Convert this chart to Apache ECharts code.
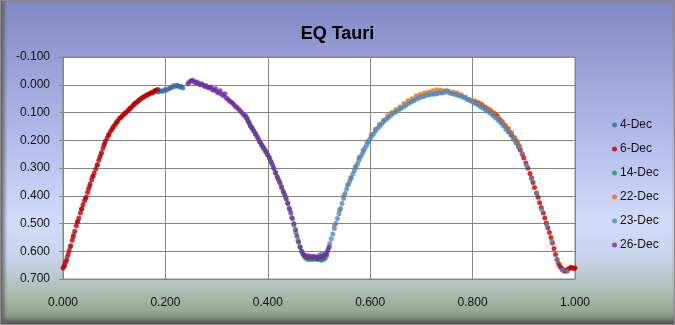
<!DOCTYPE html>
<html>
<head>
<meta charset="utf-8">
<script src="https://cdn.jsdelivr.net/npm/echarts@6/dist/echarts.min.js"></script>
<style>
  html, body { margin: 0; padding: 0; }
  #wrap {
    width: 675px; height: 325px; box-sizing: border-box;
    border: 1px solid #8c8c8c;
    background: linear-gradient(to bottom, #8187c3 0%, #9aa1d7 20%, #b6beec 45%, #d3dbfb 68%, #c7d3ea 80%, #adbfb4 90%, #97a893 96%, #6e786c 100%);
    box-shadow: inset 5px 0 4px -2px #5e5e5e, inset 0 -5px 4px -2px #4e564c;
  }
  #chart { width: 673px; height: 323px; }
</style>
</head>
<body>
<div id="wrap"><div id="chart"></div></div>
<script>
// EQ Tauri light curve, phase vs magnitude
let seriesNames = ["4-Dec", "6-Dec", "14-Dec", "22-Dec", "23-Dec", "26-Dec"];
let seriesColors = ["#3b6ca0", "#c00000", "#16a04e", "#e5700f", "#4a89c2", "#7030a0"];

let dec4 = [[0.002,0.655],[0.008,0.622],[0.014,0.585],[0.021,0.540],[0.029,0.492],[0.037,0.447],[0.044,0.410],[0.052,0.366],[0.059,0.330],[0.067,0.290],[0.074,0.252],[0.081,0.212],[0.089,0.180],[0.097,0.157],[0.105,0.134],[0.114,0.116],[0.121,0.103],[0.130,0.086],[0.139,0.070],[0.148,0.056],[0.157,0.045],[0.166,0.036],[0.174,0.031],[0.181,0.024],[0.186,0.026],[0.190,0.022],[0.194,0.024],[0.198,0.018],[0.202,0.020],[0.206,0.014],[0.210,0.012],[0.213,0.008],[0.216,0.004],[0.219,0.006],[0.222,0.002],[0.225,0.004],[0.228,0.008],[0.231,0.006],[0.234,0.012]];

let dec6 = [[0.000,0.660],[0.003,0.650],[0.005,0.640],[0.007,0.632],[0.010,0.612],[0.012,0.598],[0.015,0.580],[0.018,0.560],[0.020,0.548],[0.023,0.528],[0.026,0.508],[0.028,0.495],[0.031,0.480],[0.034,0.462],[0.036,0.448],[0.039,0.432],[0.042,0.418],[0.045,0.405],[0.048,0.388],[0.050,0.375],[0.053,0.358],[0.056,0.342],[0.058,0.330],[0.061,0.318],[0.064,0.304],[0.067,0.288],[0.070,0.272],[0.072,0.260],[0.075,0.245],[0.078,0.230],[0.080,0.218],[0.083,0.204],[0.086,0.192],[0.089,0.182],[0.092,0.170],[0.095,0.162],[0.098,0.152],[0.101,0.145],[0.104,0.138],[0.107,0.130],[0.110,0.122],[0.113,0.118],[0.116,0.112],[0.119,0.106],[0.122,0.102],[0.125,0.096],[0.128,0.092],[0.131,0.086],[0.134,0.080],[0.137,0.075],[0.140,0.068],[0.143,0.064],[0.146,0.060],[0.149,0.055],[0.152,0.050],[0.155,0.047],[0.158,0.043],[0.161,0.040],[0.164,0.037],[0.167,0.034],[0.170,0.031],[0.173,0.028],[0.176,0.026],[0.179,0.022],[0.182,0.020],[0.185,0.017],
  [0.805,0.060],[0.812,0.066],[0.818,0.072],[0.824,0.080],[0.830,0.088],[0.836,0.095],[0.842,0.104],[0.848,0.112],[0.853,0.125],[0.858,0.135],[0.863,0.148],[0.868,0.158],[0.872,0.170],[0.876,0.180],[0.880,0.190],[0.884,0.200],[0.887,0.210],[0.890,0.222],[0.893,0.234],[0.897,0.250],[0.900,0.264],[0.904,0.282],[0.908,0.300],[0.912,0.320],[0.915,0.335],[0.918,0.352],[0.921,0.370],[0.925,0.390],[0.928,0.405],[0.931,0.425],[0.934,0.442],[0.938,0.462],[0.941,0.480],[0.944,0.498],[0.947,0.515],[0.950,0.532],[0.953,0.550],[0.956,0.570],[0.959,0.590],[0.962,0.612],[0.965,0.630],[0.968,0.645],[0.971,0.655],[0.974,0.662],[0.977,0.668],[0.980,0.672],[0.983,0.670],[0.986,0.665],[0.989,0.662],[0.992,0.658],[0.995,0.660],[0.998,0.662],[1.000,0.660]];

let dec14 = [[0.357,0.112],[0.360,0.122],[0.363,0.135],[0.366,0.148],[0.369,0.155],[0.372,0.165],[0.376,0.178],[0.380,0.190],[0.384,0.205],[0.388,0.218],[0.391,0.228],[0.395,0.240],[0.399,0.252],[0.403,0.265],[0.407,0.280],[0.411,0.298],[0.415,0.318],[0.419,0.335],[0.423,0.350],[0.427,0.368],[0.431,0.388],[0.435,0.405],[0.439,0.428],[0.443,0.450],[0.447,0.478],[0.451,0.505],[0.455,0.532],[0.459,0.560],[0.463,0.585],[0.466,0.600],[0.469,0.612],[0.472,0.622],[0.476,0.628],[0.480,0.630],[0.484,0.628],[0.488,0.630],[0.492,0.626],[0.496,0.630],[0.500,0.628],[0.504,0.632],[0.508,0.630],[0.512,0.626],[0.515,0.615]];

let dec22 = [[0.530,0.505],[0.540,0.452],[0.548,0.400],[0.556,0.360],[0.562,0.335],[0.571,0.295],[0.578,0.262],[0.586,0.235],[0.594,0.205],[0.602,0.180],[0.610,0.160],[0.618,0.142],[0.626,0.128],[0.634,0.112],[0.642,0.100],[0.650,0.090],[0.658,0.080],[0.666,0.068],[0.674,0.058],[0.682,0.050],[0.690,0.040],[0.698,0.034],[0.706,0.030],[0.714,0.026],[0.722,0.022],[0.730,0.018],[0.738,0.020],[0.746,0.022],[0.754,0.024],[0.762,0.026],[0.770,0.030],[0.778,0.036],[0.786,0.044],[0.794,0.052],[0.802,0.058],[0.810,0.064],[0.818,0.070],[0.826,0.082],[0.834,0.090],[0.842,0.102],[0.850,0.118],[0.858,0.132],[0.864,0.145],[0.870,0.158],[0.876,0.172],[0.882,0.190],[0.888,0.205],[0.892,0.222]];

let dec23 = [[0.500,0.615],[0.505,0.610],[0.510,0.612],[0.515,0.605],[0.518,0.590],[0.521,0.572],[0.524,0.555],[0.527,0.538],[0.530,0.518],[0.533,0.500],[0.536,0.482],[0.539,0.465],[0.542,0.446],[0.545,0.428],[0.548,0.410],[0.551,0.392],[0.554,0.376],[0.557,0.360],[0.560,0.348],[0.563,0.336],[0.566,0.322],[0.569,0.310],[0.572,0.298],[0.575,0.286],[0.578,0.272],[0.581,0.260],[0.584,0.250],[0.587,0.240],[0.590,0.228],[0.593,0.218],[0.596,0.206],[0.599,0.196],[0.602,0.188],[0.606,0.178],[0.610,0.168],[0.614,0.158],[0.618,0.150],[0.622,0.142],[0.626,0.134],[0.630,0.126],[0.635,0.120],[0.640,0.112],[0.645,0.104],[0.650,0.098],[0.655,0.092],[0.660,0.086],[0.665,0.080],[0.670,0.074],[0.675,0.068],[0.680,0.062],[0.685,0.058],[0.690,0.052],[0.695,0.048],[0.700,0.044],[0.705,0.042],[0.710,0.038],[0.715,0.036],[0.720,0.034],[0.725,0.034],[0.730,0.032],[0.735,0.030],[0.740,0.030],[0.745,0.028],[0.750,0.022],[0.755,0.030],[0.760,0.032],[0.765,0.034],[0.770,0.038],[0.775,0.040],[0.780,0.044],[0.785,0.048],[0.790,0.054],[0.795,0.058],[0.800,0.062],[0.805,0.068],[0.810,0.072],[0.815,0.078],[0.820,0.084],[0.825,0.090],[0.830,0.096],[0.835,0.104],[0.840,0.112],[0.845,0.120],[0.850,0.128],[0.855,0.138],[0.860,0.148],[0.865,0.160],[0.870,0.170],[0.875,0.182],[0.880,0.196],[0.885,0.210],[0.890,0.226],[0.896,0.246],[0.905,0.290],[0.915,0.340],[0.925,0.392],[0.935,0.450],[0.945,0.505],[0.955,0.565],[0.965,0.632],[0.975,0.668],[0.985,0.672]];

let dec26 = [[0.244,-0.004],[0.247,-0.010],[0.250,-0.014],[0.253,-0.016],[0.256,-0.012],[0.259,-0.006],[0.262,-0.010],[0.265,-0.004],[0.268,0.000],[0.271,-0.004],[0.274,0.002],[0.277,0.006],[0.280,0.004],[0.283,0.010],[0.286,0.012],[0.289,0.008],[0.292,0.018],[0.295,0.020],[0.298,0.014],[0.301,0.026],[0.304,0.030],[0.307,0.022],[0.310,0.034],[0.313,0.040],[0.316,0.032],[0.319,0.048],[0.322,0.052],[0.325,0.058],[0.328,0.062],[0.331,0.066],[0.334,0.072],[0.337,0.078],[0.340,0.082],[0.343,0.088],[0.346,0.094],[0.349,0.100],[0.352,0.106],[0.355,0.112],[0.358,0.120],[0.361,0.130],[0.364,0.140],[0.367,0.150],[0.370,0.158],[0.373,0.168],[0.376,0.176],[0.379,0.186],[0.382,0.196],[0.385,0.206],[0.388,0.216],[0.391,0.224],[0.394,0.232],[0.397,0.242],[0.400,0.252],[0.403,0.262],[0.406,0.276],[0.409,0.288],[0.412,0.302],[0.415,0.315],[0.418,0.330],[0.421,0.342],[0.424,0.355],[0.427,0.370],[0.430,0.384],[0.433,0.396],[0.436,0.412],[0.439,0.426],[0.442,0.445],[0.445,0.462],[0.448,0.482],[0.451,0.500],[0.454,0.522],[0.457,0.545],[0.460,0.568],[0.463,0.585],[0.466,0.600],[0.469,0.610],[0.472,0.615],[0.475,0.620],[0.478,0.616],[0.481,0.622],[0.484,0.618],[0.487,0.624],[0.490,0.618],[0.493,0.622],[0.496,0.626],[0.499,0.620],[0.502,0.624],[0.505,0.618],[0.508,0.622],[0.511,0.616],[0.514,0.610],[0.517,0.598],[0.520,0.585]];

let seriesData = [dec4, dec6, dec14, dec22, dec23, dec26];

let fontName = "Liberation Sans";
let lineGray = "#868686";

let option = {
  title: {
    text: "EQ Tauri",
    left: "center",
    top: 19,
    textStyle: { fontFamily: fontName, fontSize: 18, fontWeight: "bold", color: "#000" }
  },
  legend: {
    orient: "vertical",
    left: 606,
    top: 112,
    itemGap: 10,
    itemWidth: 5,
    itemHeight: 5,
    icon: "circle",
    data: seriesNames,
    textStyle: { fontFamily: fontName, fontSize: 12, color: "#111", lineHeight: 14, padding: [0, 0, 0, -2] }
  },
  grid: {
    left: 62,
    right: 99,
    top: 56,
    bottom: 45,
    show: true,
    backgroundColor: "#fff",
    borderColor: lineGray,
    borderWidth: 1
  },
  xAxis: {
    type: "value",
    min: 0,
    max: 1,
    interval: 0.2,
    axisLine: { show: true, lineStyle: { color: lineGray } },
    axisTick: { show: false },
    axisLabel: {
      margin: 18,
      color: "#111",
      fontFamily: fontName,
      fontSize: 12,
      formatter: function(v) { return v.toFixed(3); }
    },
    splitLine: { show: true, lineStyle: { color: lineGray } }
  },
  yAxis: {
    type: "value",
    inverse: true,
    min: -0.1,
    max: 0.7,
    interval: 0.1,
    axisLine: { show: true, lineStyle: { color: lineGray } },
    axisTick: { show: true, inside: false, length: 4, lineStyle: { color: lineGray } },
    axisLabel: {
      margin: 13,
      color: "#111",
      fontFamily: fontName,
      fontSize: 12,
      formatter: function(v) { return v.toFixed(3); }
    },
    splitLine: { show: true, lineStyle: { color: lineGray } }
  },
  series: seriesNames.map(function(name, i) {
    return {
      name: name,
      type: "scatter",
      symbol: "circle",
      symbolSize: 5,
      itemStyle: { color: seriesColors[i] },
      data: seriesData[i],
      animation: false
    };
  })
};

let chart = echarts.init(document.getElementById("chart"), null, { renderer: "canvas" });
chart.setOption(option);
</script>
</body>
</html>
